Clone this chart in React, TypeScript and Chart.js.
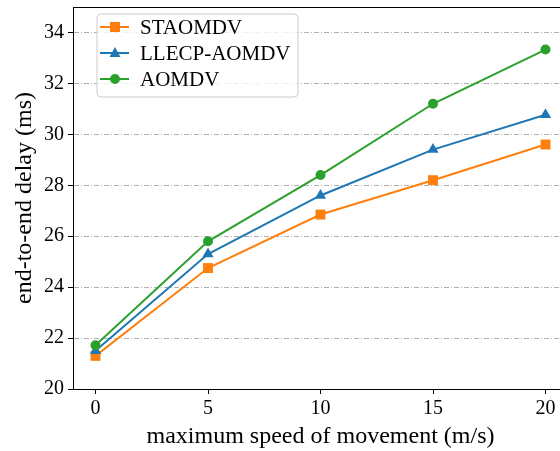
import React, { useEffect, useRef } from "react";
import { Chart, registerables } from "chart.js";

Chart.register(...registerables);

const seriesLabels = ["STAOMDV", "LLECP-AOMDV", "AOMDV"];
const speeds = [0, 5, 10, 15, 20];
const staomdv = [21.3, 24.75, 26.85, 28.2, 29.6];
const llecpAomdv = [21.5, 25.3, 27.6, 29.4, 30.77];
const aomdv = [21.72, 25.8, 28.4, 31.2, 33.33];
const xTickValues = [0, 5, 10, 15, 20];
const yTickValues = [20, 22, 24, 26, 28, 30, 32, 34];

const colors = ["#ff7f0e", "#1f77b4", "#2ca02c"];
const markers = ["rect", "triangle", "circle"];
const FONT = "'Liberation Serif', 'Times New Roman', serif";

function drawMarker(ctx: CanvasRenderingContext2D, kind: string, x: number, y: number, color: string) {
  ctx.save();
  ctx.fillStyle = color;
  ctx.beginPath();
  if (kind === "rect") {
    ctx.rect(x - 5, y - 5, 10, 10);
  } else if (kind === "triangle") {
    ctx.moveTo(x, y - 6);
    ctx.lineTo(x + 5.5, y + 4);
    ctx.lineTo(x - 5.5, y + 4);
    ctx.closePath();
  } else {
    ctx.arc(x, y, 5, 0, Math.PI * 2);
  }
  ctx.fill();
  ctx.restore();
}

const framePlugin = {
  id: "framePlugin",
  afterDraw(chart: any) {
    const { ctx, chartArea } = chart;
    ctx.save();
    ctx.strokeStyle = "#000";
    ctx.lineWidth = 1;
    ctx.beginPath();
    ctx.moveTo(chartArea.left, chartArea.top + 0.5);
    ctx.lineTo(chartArea.right, chartArea.top + 0.5);
    ctx.moveTo(chartArea.right - 0.5, chartArea.top);
    ctx.lineTo(chartArea.right - 0.5, chartArea.bottom);
    ctx.stroke();

    // legend
    const bx = chartArea.left + 24;
    const by = chartArea.top + 7;
    const bw = 201;
    const bh = 83;
    const r = 4;
    ctx.beginPath();
    ctx.moveTo(bx + r, by);
    ctx.lineTo(bx + bw - r, by);
    ctx.quadraticCurveTo(bx + bw, by, bx + bw, by + r);
    ctx.lineTo(bx + bw, by + bh - r);
    ctx.quadraticCurveTo(bx + bw, by + bh, bx + bw - r, by + bh);
    ctx.lineTo(bx + r, by + bh);
    ctx.quadraticCurveTo(bx, by + bh, bx, by + bh - r);
    ctx.lineTo(bx, by + r);
    ctx.quadraticCurveTo(bx, by, bx + r, by);
    ctx.closePath();
    ctx.fillStyle = "rgba(255,255,255,0.8)";
    ctx.fill();
    ctx.strokeStyle = "#cccccc";
    ctx.stroke();

    ctx.font = `21px ${FONT}`;
    ctx.textBaseline = "middle";
    ctx.textAlign = "left";
    seriesLabels.forEach((label, i) => {
      const yy = by + 13 + i * 26;
      ctx.strokeStyle = colors[i];
      ctx.lineWidth = 2;
      ctx.beginPath();
      ctx.moveTo(bx + 3, yy);
      ctx.lineTo(bx + 32, yy);
      ctx.stroke();
      drawMarker(ctx, markers[i], bx + 18, yy, colors[i]);
      ctx.fillStyle = "#000";
      ctx.fillText(label, bx + 43, yy + 1);
    });
    ctx.restore();
  },
};

export default function App() {
  const canvasRef = useRef<HTMLCanvasElement | null>(null);

  useEffect(() => {
    if (!canvasRef.current) return;
    const series = [staomdv, llecpAomdv, aomdv];
    const chart = new Chart(canvasRef.current, {
      type: "line",
      data: {
        datasets: series.map((vals, i) => ({
          label: seriesLabels[i],
          data: speeds.map((s, j) => ({ x: s, y: vals[j] })),
          borderColor: colors[i],
          backgroundColor: colors[i],
          borderWidth: 2,
          pointStyle: markers[i] as any,
          pointRadius: markers[i] === "rect" ? 7 : markers[i] === "triangle" ? 6.5 : 5,
          pointBorderWidth: 0,
          fill: false,
          tension: 0,
          order: 2 - i,
        })),
      },
      options: {
        animation: false,
        responsive: false,
        devicePixelRatio: 1,
        layout: { autoPadding: false, padding: { top: 7, right: 1, left: 0, bottom: 0 } },
        plugins: { legend: { display: false }, tooltip: { enabled: false } },
        scales: {
          x: {
            type: "linear",
            min: -1,
            max: 21,
            afterBuildTicks: (scale: any) => {
              scale.ticks = xTickValues.map((v) => ({ value: v }));
            },
            afterFit: (scale: any) => {
              scale.height = 62;
              scale.paddingLeft = 0;
              scale.paddingRight = 0;
            },
            ticks: {
              stepSize: 5,
              color: "#000",
              font: { family: FONT, size: 20 },
              padding: 3,
              maxRotation: 0,
            },
            grid: {
              display: true,
              drawOnChartArea: false,
              drawTicks: true,
              tickLength: 5,
              tickColor: "#000",
              tickWidth: 1,
            },
            border: { display: true, color: "#000", width: 1 },
            title: {
              display: true,
              text: "maximum speed of movement (m/s)",
              color: "#000",
              font: { family: FONT, size: 24 },
              padding: { top: 1, bottom: 0 },
            },
          },
          y: {
            type: "linear",
            min: 20,
            max: 35,
            afterBuildTicks: (scale: any) => {
              scale.ticks = yTickValues.map((v) => ({ value: v }));
            },
            afterFit: (scale: any) => {
              scale.width = 73;
              scale.paddingTop = 0;
              scale.paddingBottom = 0;
            },
            ticks: {
              color: "#000",
              font: { family: FONT, size: 20 },
              padding: 4,
            },
            grid: {
              color: (c: any) => (c.tick && c.tick.value === 20 ? "rgba(0,0,0,0)" : "#b0b0b0"),
              lineWidth: 1,
              drawTicks: true,
              tickLength: 5,
              tickColor: "#000",
              tickWidth: 1,
              tickBorderDash: [],
            } as any,
            border: { display: true, color: "#000", width: 1, dash: [5, 2, 1, 2] },
            title: {
              display: true,
              text: "end-to-end delay (ms)",
              color: "#000",
              font: { family: FONT, size: 24 },
              padding: { top: 10, bottom: 0 },
            },
          },
        },
      },
      plugins: [framePlugin],
    });
    return () => chart.destroy();
  }, []);

  return (
    <div style={{ position: "fixed", left: 0, top: 0, width: 560, height: 451, overflow: "hidden", background: "#fff" }}>
      <canvas ref={canvasRef} width={569} height={451} style={{ display: "block" }} />
    </div>
  );
}
